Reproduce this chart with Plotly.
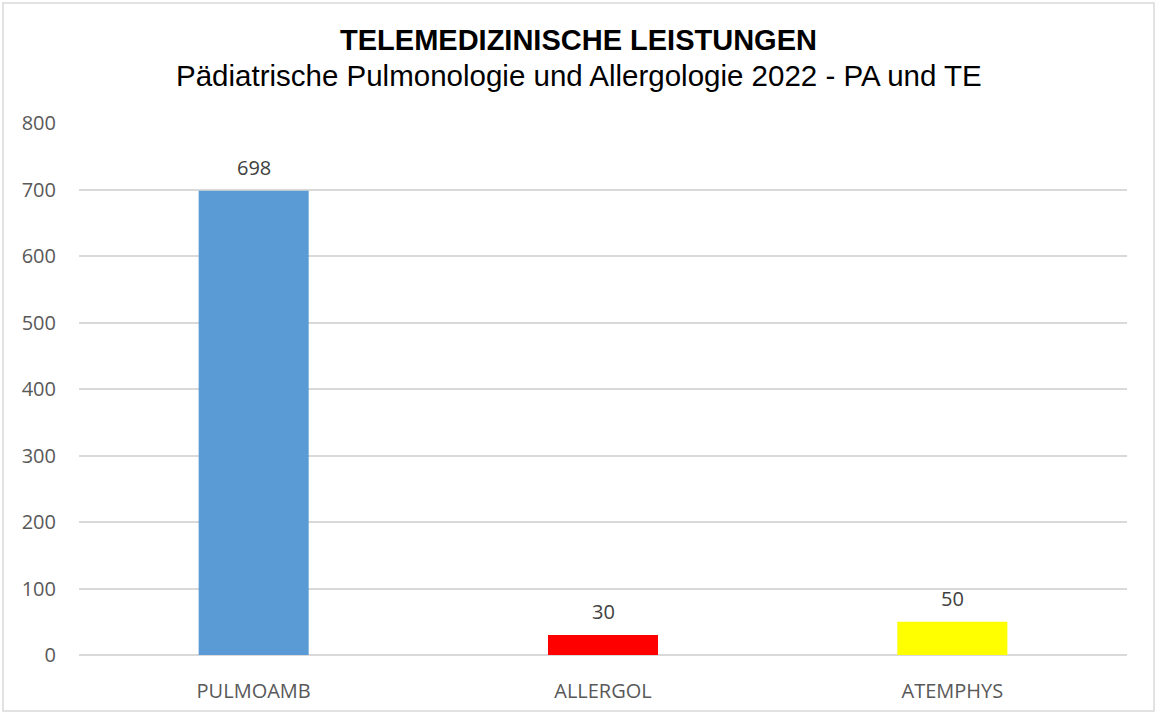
import plotly.graph_objects as go

categories = ["PULMOAMB", "ALLERGOL", "ATEMPHYS"]
values = [698, 30, 50]
colors = ["#5B9BD5", "#FF0000", "#FFFF00"]
y_ticks = [0, 100, 200, 300, 400, 500, 600, 700, 800]

W, H = 1157, 714
L, R, T, B = 79, 30, 123, 59
plot_w = W - L - R
plot_h = H - T - B

fig = go.Figure()
fig.add_trace(go.Bar(
    x=categories, y=values, marker=dict(color=colors, line=dict(width=0)),
    width=0.315, hoverinfo="x+y",
))

for c, v in zip(categories, values):
    fig.add_annotation(x=c, y=v, text=str(v), showarrow=False, yanchor="bottom",
                       yshift=8, font=dict(family="Open Sans", size=20, color="#404040"))

fig.add_annotation(xref="paper", yref="paper", x=(W / 2 - L) / plot_w, y=1 + 48 / plot_h,
                   text="Pädiatrische Pulmonologie und Allergologie 2022 - PA und TE",
                   showarrow=False, xanchor="center", yanchor="middle",
                   font=dict(family="Liberation Sans, Arial", size=29.5, color="#000000"))

fig.add_shape(type="rect", xref="paper", yref="paper",
              x0=-(L - 3) / plot_w, x1=1 + (R - 3) / plot_w,
              y0=-(B - 3) / plot_h, y1=1 + (T - 3) / plot_h,
              line=dict(color="#D9D9D9", width=1.5), fillcolor="rgba(0,0,0,0)", layer="below")

fig.update_layout(
    width=W, height=H,
    margin=dict(l=L, r=R, t=T, b=B, autoexpand=False),
    paper_bgcolor="white", plot_bgcolor="white",
    showlegend=False,
    title=dict(text="<b>TELEMEDIZINISCHE LEISTUNGEN</b>", x=0.5, xanchor="center", xref="container",
               y=1 - 40 / H, yanchor="middle", yref="container",
               font=dict(family="Liberation Sans, Arial", size=29, color="#000000")),
    xaxis=dict(showgrid=False, showline=False, ticks="", ticklabelstandoff=22,
               tickfont=dict(family="Open Sans", size=20, color="#595959")),
    yaxis=dict(range=[0, 800], tickvals=y_ticks, showgrid=True, gridcolor="#D9D9D9",
               gridwidth=1.5, zeroline=True, zerolinecolor="#D9D9D9", zerolinewidth=1.5,
               showline=False, ticks="", ticklabelstandoff=22,
               tickfont=dict(family="Open Sans", size=20, color="#595959")),
)

fig.write_html("out.html", config={"displayModeBar": False},
               post_script="document.body.style.margin='0';document.body.style.overflow='hidden';")
